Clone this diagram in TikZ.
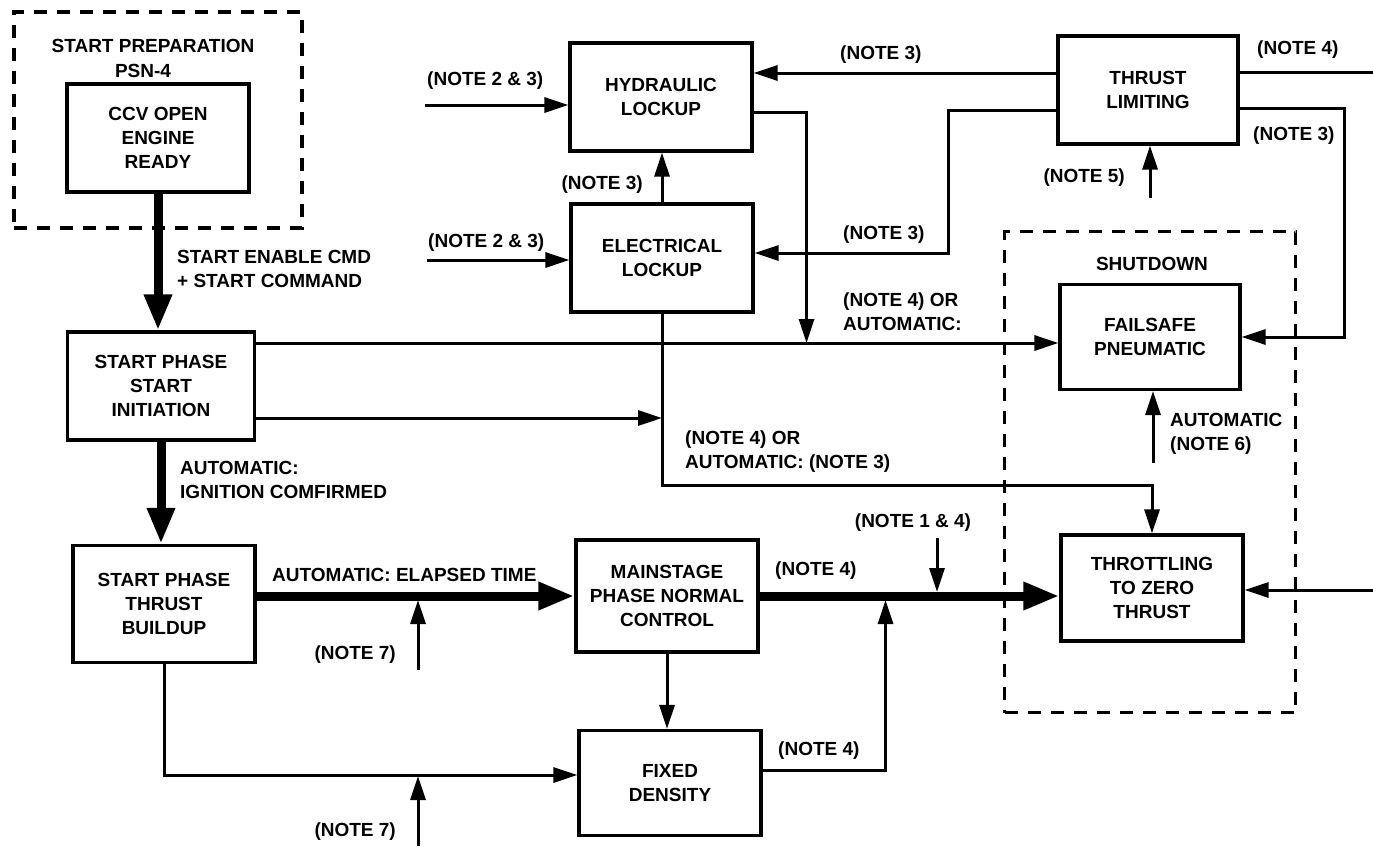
\documentclass[tikz,border=0pt]{standalone}
\usepackage{fontspec}
\setmainfont{Liberation Sans}
\usepackage{tikz}
\usetikzlibrary{positioning,arrows.meta}

\begin{document}
\begin{tikzpicture}[x=1pt, y=-1pt, font=\fontsize{19}{24}\selectfont\bfseries,
      >={Triangle[length=24pt,width=15pt]},
      b/.style={draw, line width=3.1pt, minimum width=182pt, minimum height=108pt,
                align=center, inner sep=2pt},
      frame/.style={draw, line width=3.1pt, dash pattern=on 13pt off 10pt},
      ln/.style={line width=3pt},
      fat/.style={line width=9pt, -{Triangle[length=36pt,width=26pt]}},
      t/.style={inner sep=0pt, align=left}]
    \useasboundingbox (0,0) rectangle (1373,846);
    \node[frame, minimum width=288pt, minimum height=216pt] (prep) at (158,120) {};
    \node[frame, minimum width=291pt, minimum height=481pt] (shut) at (1150,472) {};
    \node[t, anchor=base] (prep1) at (153,52) {START PREPARATION};
    \node[t, anchor=base] (prep2) at (143,77) {PSN-4};
    \node[t, anchor=base] (sd) at (1152,270) {SHUTDOWN};
    \node[b] (ccv) at (158,138) {CCV OPEN\\ENGINE\\READY};
    \node[b, minimum width=187pt] (init) at (161,386) {START PHASE\\START\\INITIATION};
    \node[b, minimum height=117pt] (bld) at (164,604) {START PHASE\\THRUST\\BUILDUP};
    \node[b] (hyd) at (661,97) {HYDRAULIC\\LOCKUP};
    \node[b] (elec) at (662,258) {ELECTRICAL\\LOCKUP};
    \node[b, minimum width=180pt] (lim) at (1148,90) {THRUST\\LIMITING};
    \node[b, minimum width=180pt, minimum height=105pt] (fail) at (1150,337) {FAILSAFE\\PNEUMATIC};
    \node[b, minimum height=106pt] (thr) at (1152,588) {THROTTLING\\TO ZERO\\THRUST};
    \node[b, minimum height=112pt] (main) at (667,596) {MAINSTAGE\\PHASE NORMAL\\CONTROL};
    \node[b, minimum height=105pt] (fix) at (670,783) {FIXED\\DENSITY};

    \draw[fat] (ccv.south) -- (ccv.south |- init.north);
    \node[t, anchor=west] (enable) at (177,269) {START ENABLE CMD\\+ START COMMAND};
    \draw[fat] (init.south) -- (init.south |- bld.north);
    \node[t, anchor=west] (ign) at (180,480) {AUTOMATIC:\\IGNITION COMFIRMED};
    \draw[fat] (bld.east |- main.west) -- (main.west);
    \node[t, anchor=base west] (elapsed) at (272,581) {AUTOMATIC: ELAPSED TIME};
    \coordinate (n7a) at (418,670);
    \draw[ln, ->, shorten >=4pt] (n7a) -- (n7a |- main.west);
    \node[t, anchor=base east] (n7al) at (396,659) {(NOTE 7)};
    \coordinate (fixin) at ([yshift=8pt]fix.west);
    \draw[ln, ->] (bld.south) |- (fixin);
    \coordinate (n7b) at (418,846);
    \draw[ln, ->, shorten >=1pt] (n7b) -- (n7b |- fixin);
    \node[t, anchor=base east] (n7bl) at (396,836) {(NOTE 7)};
    \draw[ln, ->] (main.south) -- (main.south |- fix.north);
    \draw[fat] (main.east) -- (main.east -| thr.west);
    \node[t, anchor=base west] (n4a) at (775,575) {(NOTE 4)};
    \coordinate (n14) at (937,538);
    \draw[ln, ->, shorten >=4pt] (n14) -- (n14 |- main.east);
    \node[t, anchor=base] (n14l) at (913,527) {(NOTE 1 \& 4)};
    \draw[ln, ->, shorten >=4pt] ([yshift=13pt]fix.east) -| ([xshift=126pt]main.east);
    \node[t, anchor=base west] (n4b) at (778,755) {(NOTE 4)};

    \coordinate (in1) at (425,105);
    \draw[ln, ->] (in1) -- (in1 -| hyd.west);
    \node[t, anchor=base west] (n23a) at (427,85) {(NOTE 2 \& 3)};
    \coordinate (in2) at (427,260);
    \draw[ln, ->] (in2) -- (in2 -| elec.west);
    \node[t, anchor=base west] (n23b) at (428,247) {(NOTE 2 \& 3)};
    \draw[ln, ->] (elec.north) -- (elec.north |- hyd.south);
    \node[t, anchor=base east] (n3a) at (643,189) {(NOTE 3)};

    \coordinate (l1) at ([yshift=17pt]lim.west);
    \draw[ln, ->] (l1) -- (l1 -| hyd.east);
    \node[t, anchor=base west] (n3b) at (840,59) {(NOTE 3)};
    \coordinate (l2) at ([yshift=-20pt]lim.west);
    \draw[ln, ->] (l2) -- ++(-108,0) |- ([yshift=5pt]elec.east);
    \node[t, anchor=base west] (n3c) at (843,239) {(NOTE 3)};
    \coordinate (l3) at ([yshift=18pt]lim.east);
    \coordinate (edge1) at (1373,72);
    \draw[ln] (l3) -- (edge1);
    \node[t, anchor=base west] (n4c) at (1257,54) {(NOTE 4)};
    \coordinate (l4) at ([yshift=-18pt]lim.east);
    \draw[ln, ->] (l4) -- ++(105,0) |- (fail.east);
    \node[t, anchor=base west] (n3d) at (1253,140) {(NOTE 3)};
    \coordinate (n5) at (1150,198);
    \draw[ln, ->] (n5) -- (n5 |- lim.south);
    \node[t, anchor=base east] (n5l) at (1125,182) {(NOTE 5)};
    \coordinate (n6) at (1153,463);
    \draw[ln, ->] (n6) -- (n6 |- fail.south);
    \node[t, anchor=west] (n6l) at (1170,434) {AUTOMATIC\\(NOTE 6)};
    \coordinate (edge2) at (1373,590);
    \draw[ln, ->] (edge2) -- (edge2 -| thr.east);

    \coordinate (i1) at ([yshift=-6pt]fail.west);
    \draw[ln, ->] (i1 -| init.east) -- (i1);
    \draw[ln, ->] ([yshift=-15pt]hyd.east) -- ++(53,0) coordinate (h1) -- (h1 |- i1);
    \node[t, anchor=west] (n4d) at (843,312) {(NOTE 4) OR\\AUTOMATIC:};
    \coordinate (i2) at ([yshift=-32pt]init.east);
    \draw[ln, ->] (i2) -- (i2 -| elec.south);
    \draw[ln, ->] (elec.south) |- ([yshift=48pt]thr.north) -- (thr.north);
    \node[t, anchor=west] (n4e) at (685,452) {(NOTE 4) OR\\AUTOMATIC: (NOTE 3)};
  \end{tikzpicture}
\end{document}
